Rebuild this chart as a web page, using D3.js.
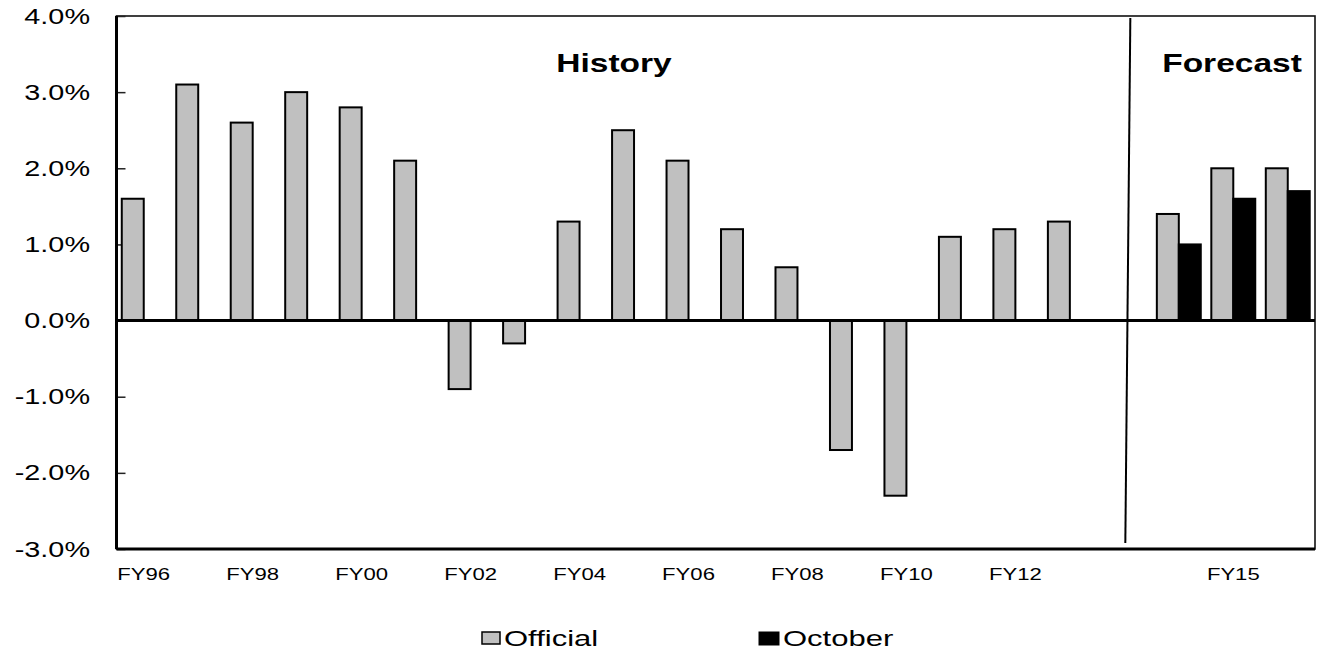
<!DOCTYPE html>
<html>
<head>
<meta charset="utf-8">
<script src="https://cdn.jsdelivr.net/npm/d3@7"></script>
<style>
  html, body { margin: 0; padding: 0; background: #fff; }
  svg { display: block; }
  text { font-family: "Liberation Sans", Arial, sans-serif; fill: #000; }
</style>
</head>
<body>
<svg id="chart" width="1317" height="651"></svg>
<script>
// ---- data ----
const categories = ["FY96","FY97","FY98","FY99","FY00","FY01","FY02","FY03","FY04","FY05",
                    "FY06","FY07","FY08","FY09","FY10","FY11","FY12","FY13","",
                    "FY14","FY15","FY16"];
const categoryLabels = ["FY96","","FY98","","FY00","","FY02","","FY04","",
                        "FY06","","FY08","","FY10","","FY12","","",
                        "","FY15",""];
const official = [1.6, 3.1, 2.6, 3.0, 2.8, 2.1, -0.9, -0.3, 1.3, 2.5,
                  2.1, 1.2, 0.7, -1.7, -2.3, 1.1, 1.2, 1.3, null,
                  1.4, 2.0, 2.0];
const october  = [null, null, null, null, null, null, null, null, null, null,
                  null, null, null, null, null, null, null, null, null,
                  1.0, 1.6, 1.7];
const seriesNames = ["Official", "October"];
const yTicks = [4, 3, 2, 1, 0, -1, -2, -3];
const yTickLabels = ["4.0%", "3.0%", "2.0%", "1.0%", "0.0%", "-1.0%", "-2.0%", "-3.0%"];
const sectionLabels = ["History", "Forecast"];

// ---- layout ----
const plot = { left: 116.5, right: 1315, top: 16, bottom: 549 };
const SX = 1.34; // horizontal text stretch of the reference

const svg = d3.select("#chart");

const x = d3.scaleBand().domain(d3.range(categories.length))
  .range([plot.left, plot.right]).paddingInner(0).paddingOuter(0);
const xs = d3.scaleBand().domain(seriesNames).range([0, x.bandwidth()])
  .paddingInner(0).paddingOuter(0.24);
const y = d3.scaleLinear().domain([-3, 4]).range([plot.bottom, plot.top]);

function sText(g, px, py, str, anchor, size, weight, sx) {
  return g.append("text")
    .attr("transform", `translate(${px},${py}) scale(${sx || SX},1)`)
    .attr("text-anchor", anchor)
    .style("font-size", size + "px")
    .style("font-weight", weight || "normal")
    .text(str);
}

// plot frame (top & right thin)
svg.append("rect")
  .attr("x", plot.left).attr("y", plot.top)
  .attr("width", plot.right - plot.left).attr("height", plot.bottom - plot.top)
  .attr("fill", "none").attr("stroke", "#111").attr("stroke-width", 1.6);

// y ticks (inward) via axis
const yAxis = d3.axisRight(y).tickValues(yTicks).tickSize(9).tickFormat("");
const yg = svg.append("g").attr("transform", `translate(${plot.left},0)`).call(yAxis);
yg.select(".domain").remove();
yg.selectAll("line").attr("stroke", "#222").attr("stroke-width", 1.5);

// y labels
const tickG = svg.append("g");
yTicks.forEach((t, k) => {
  sText(tickG, 90, y(t) + 7.5, yTickLabels[k], "end", 21.5);
});

// bars
const barG = svg.append("g");
const rows = [];
categories.forEach((c, i) => {
  if (official[i] != null) rows.push({ i, s: "Official", v: official[i] });
  if (october[i] != null) rows.push({ i, s: "October", v: october[i] });
});
barG.selectAll("rect").data(rows).join("rect")
  .attr("x", d => x(d.i) + xs(d.s))
  .attr("width", xs.bandwidth())
  .attr("y", d => y(Math.max(0, d.v)))
  .attr("height", d => Math.abs(y(d.v) - y(0)))
  .attr("fill", d => d.s === "Official" ? "#C0C0C0" : "#000")
  .attr("stroke", "#000").attr("stroke-width", 2);

// axes lines
svg.append("line").attr("x1", plot.left).attr("x2", plot.right)
  .attr("y1", y(0)).attr("y2", y(0)).attr("stroke", "#000").attr("stroke-width", 3);
svg.append("line").attr("x1", plot.left).attr("x2", plot.left)
  .attr("y1", plot.top).attr("y2", plot.bottom).attr("stroke", "#000").attr("stroke-width", 3);
svg.append("line").attr("x1", plot.left).attr("x2", plot.right)
  .attr("y1", plot.bottom).attr("y2", plot.bottom).attr("stroke", "#000").attr("stroke-width", 3);

// x labels
const xg = svg.append("g");
categoryLabels.forEach((lab, i) => {
  if (lab) sText(xg, x(i) + x.bandwidth() / 2, 580, lab, "middle", 16.5);
});

// divider between history and forecast
const blankIdx = categories.indexOf("");
const divX = x(blankIdx) + x.bandwidth() / 2;
svg.append("line")
  .attr("x1", divX + 6).attr("y1", plot.top + 2)
  .attr("x2", divX + 1).attr("y2", plot.bottom - 6)
  .attr("stroke", "#000").attr("stroke-width", 2);

// section labels
sText(svg, 614, 72, sectionLabels[0], "middle", 25, "bold");
sText(svg, 1232, 72, sectionLabels[1], "middle", 25, "bold");

// legend
const lg = svg.append("g");
lg.append("rect").attr("x", 482).attr("y", 632).attr("width", 18).attr("height", 12)
  .attr("fill", "#C0C0C0").attr("stroke", "#000").attr("stroke-width", 1.5);
sText(lg, 504, 646, seriesNames[0], "start", 22, "normal", 1.41);
lg.append("rect").attr("x", 759).attr("y", 632).attr("width", 20).attr("height", 13)
  .attr("fill", "#000").attr("stroke", "#000").attr("stroke-width", 1);
sText(lg, 783, 646, seriesNames[1], "start", 22, "normal", 1.41);
</script>
</body>
</html>
